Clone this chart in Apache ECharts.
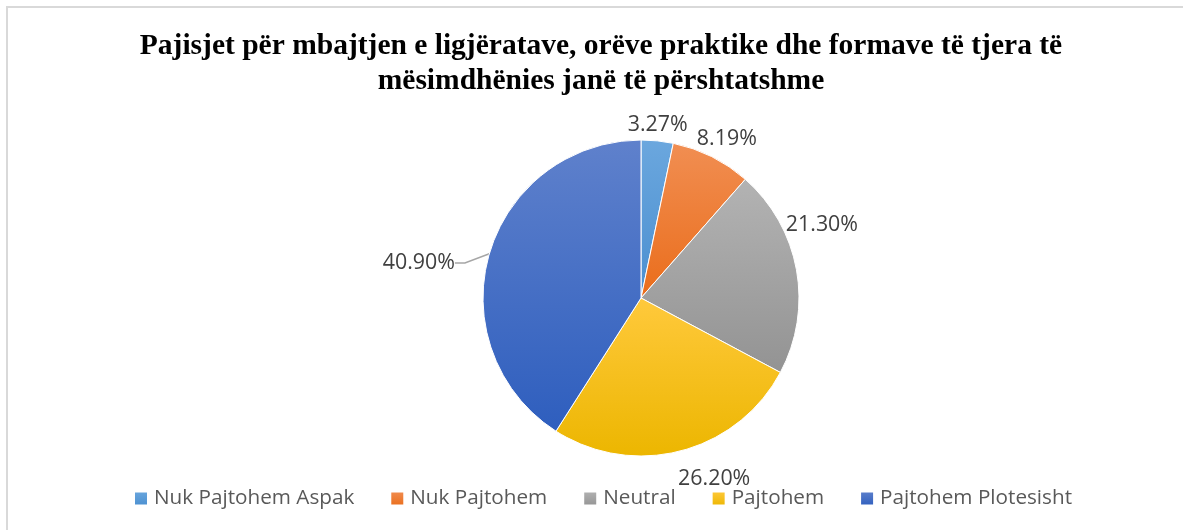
<!DOCTYPE html>
<html>
<head>
<meta charset="utf-8">
<script src="https://cdn.jsdelivr.net/npm/echarts@6/dist/echarts.min.js"></script>
<style>
html,body{margin:0;padding:0;background:#fff;}
#chart{width:1183px;height:530px;}
</style>
</head>
<body>
<div id="chart"></div>
<script>
const titleText = "Pajisjet për mbajtjen e ligjëratave, orëve praktike dhe formave të tjera të\nmësimdhënies janë të përshtatshme";
const categories = ["Nuk Pajtohem Aspak", "Nuk Pajtohem", "Neutral", "Pajtohem", "Pajtohem Plotesisht"];
const values = [3.27, 8.19, 21.30, 26.20, 40.90];
const labelTexts = ["3.27%", "8.19%", "21.30%", "26.20%", "40.90%"];

const gradients = [
  ["#6BA7DE", "#4A8FD0"],
  ["#F18E52", "#EA6D1B"],
  ["#B3B3B3", "#939393"],
  ["#FFC93C", "#ECB600"],
  ["#5F81CC", "#2E5EBE"]
];
const CX = 641, CY = 298, R = 158;
const labelNudge = [[-3, -2], [0, -5], [-14, -42], [23, 14], [-9, 20]];
const labelGap = [4, 4, 4, 4, 28];

const total = values.reduce((a, b) => a + b, 0);

const chart = echarts.init(document.getElementById('chart'), null, {renderer: 'canvas'});
chart.setOption({
  backgroundColor: '#ffffff',
  animation: false,
  graphic: [{
    type: 'rect',
    shape: {x: 7, y: 7, width: 1200, height: 540},
    style: {fill: 'none', stroke: '#d9d9d9', lineWidth: 2},
    silent: true, z: -1
  }],
  title: {
    text: titleText,
    left: 596,
    textAlign: 'center',
    top: 24,
    textStyle: {
      fontFamily: 'Liberation Serif',
      fontWeight: 'bold',
      fontSize: 29.5,
      lineHeight: 35,
      color: '#000000'
    }
  },
  legend: {
    data: categories,
    bottom: 16,
    left: 128,
    itemWidth: 14,
    itemHeight: 14,
    itemGap: 35,
    icon: 'rect',
    textStyle: {fontFamily: 'Open Sans', fontSize: 20.7, color: '#595959', padding: [0, 0, 0, 1]}
  },
  series: [{
    type: 'pie',
    center: [CX, CY],
    radius: R,
    startAngle: 90,
    clockwise: true,
    avoidLabelOverlap: false,
    itemStyle: {borderColor: '#ffffff', borderWidth: 1},
    label: {
      show: true,
      position: 'outside',
      fontFamily: 'Open Sans',
      fontSize: 21.4,
      color: '#404040',
      formatter: p => labelTexts[p.dataIndex]
    },
    labelLine: {show: false, length: 10, length2: 10},
    labelLayout: function (p) {
      const i = p.dataIndex;
      let cum = 0;
      for (let j = 0; j < i; j++) cum += values[j];
      const mid = (cum + values[i] / 2) / total * Math.PI * 2;
      const dx = Math.sin(mid), dy = -Math.cos(mid);
      const ex = CX + R * dx, ey = CY + R * dy;
      const w = p.labelRect.width, h = p.labelRect.height;
      const g = labelGap[i];
      return {
        x: ex + dx * (g + w / 2) + labelNudge[i][0],
        y: ey + dy * (g + h / 2) + labelNudge[i][1],
        align: 'center',
        verticalAlign: 'middle'
      };
    },
    data: categories.map((c, i) => ({
      name: c,
      value: values[i],
      itemStyle: {
        color: {
          type: 'linear', x: 0, y: 0, x2: 0, y2: 1,
          colorStops: [{offset: 0, color: gradients[i][0]}, {offset: 1, color: gradients[i][1]}]
        }
      },
      labelLine: i === 4 ? {show: true, lineStyle: {color: '#a6a6a6', width: 1.5}} : {show: false}
    }))
  }]
});
</script>
</body>
</html>
